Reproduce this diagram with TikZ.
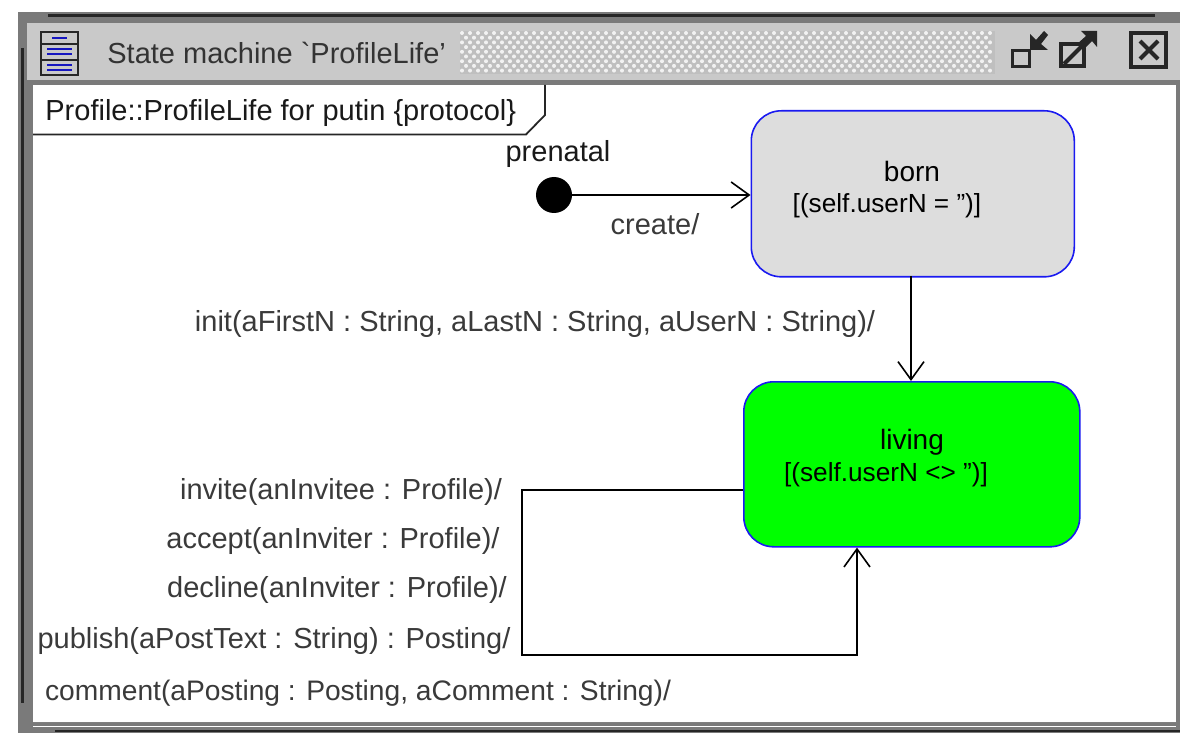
\documentclass[tikz,border=0pt]{standalone}
\usepackage{fontspec}
\setmainfont{Liberation Sans}
\usetikzlibrary{arrows.meta}
\definecolor{barGrey}{HTML}{C9C9C9}
\definecolor{frameGrey}{HTML}{7A7A7A}
\definecolor{stateGrey}{HTML}{DDDDDD}
\definecolor{labelGrey}{HTML}{3A3A3A}
\definecolor{edgeBlue}{HTML}{1A1AF0}
\tikzset{
  statebox/.style={draw=edgeBlue,line width=0.8pt,rounded corners=15pt,anchor=north west,inner sep=0pt},
  translabel/.style={font=\fontsize{14.5}{16}\selectfont,text=labelGrey,inner sep=0pt},
  guard/.style={font=\fontsize{13.1}{15}\selectfont,inner sep=0pt},
  statename/.style={font=\fontsize{14}{16}\selectfont,inner sep=0pt},
  trans/.style={line width=1pt,-{Straight Barb[length=9pt,width=13pt,line width=0.8pt]}},
  iconline/.style={line width=1.4pt,black!85},
}
\begin{document}
\begin{tikzpicture}
    \pgfsetxvec{\pgfpoint{0.5pt}{0}}
    \pgfsetyvec{\pgfpoint{0}{-0.5pt}}
    \useasboundingbox (0,0) rectangle (1180,733);

    % window frame
    \fill[white] (0,0) rectangle (1180,733);
    \fill[frameGrey] (18,12) rectangle (1180,733);
    \fill[barGrey] (27,23) rectangle (1180,80);
    \fill[white] (33,85) rectangle (1176,722);
    \draw[line width=1.5pt,black!85] (48,16) -- (1155,16);
    \draw[line width=1.5pt,black!85] (22,48) -- (22,703);
    \draw[line width=1pt,black!85] (55,731) -- (1180,731);
    \draw[line width=0.5pt,black!50] (33,722.5) -- (1176,722.5);
    \draw[line width=0.5pt,white] (33,726) -- (1176,726);

    % title bar
    \draw[iconline] (41,32) rectangle (78,75);
    \draw[iconline] (41,44) -- (78,44);
    \draw[iconline] (41,60) -- (78,60);
    \foreach \y/\l/\r in {38/52/67,49/47/72,54/47/72,65/47/72,70/47/72} {
      \draw[edgeBlue!80!black,line width=1pt] (\l,\y) -- (\r,\y);
    }
    \node[anchor=west,translabel,text=black!80] (titletext) at (107,53) {State machine \textasciigrave ProfileLife'};
    \fill[black!25] (460,31) rectangle (995,74);
    \foreach \y [count=\n] in {33,37.7,...,72} {
      \pgfmathsetmacro{\xstart}{isodd(\n) ? 462 : 466}
      \pgfmathsetmacro{\xnext}{\xstart+8}
      \foreach \x in {\xstart,\xnext,...,993} {
        \fill[white!95!black] (\x,\y) circle (1pt);
      }
    }

    % window icons
    \draw[line width=1.5pt,black!85] (1012,51) rectangle (1029,67);
    \fill[black!85] (1030,34) -- (1030,50) -- (1048,50) -- (1041,44) -- (1048,35) -- (1044,31) -- (1036,40) -- cycle;
    \draw[line width=2pt,black!85] (1061,44) rectangle (1084,66);
    \draw[line width=2pt,black!85] (1064,64) -- (1082,46);
    \fill[black!85] (1081,31) -- (1097,31) -- (1097,47) -- (1092,41) -- (1083,50) -- (1077,44) -- (1086,36) -- cycle;
    \draw[line width=2pt,black!85] (1131,33) rectangle (1166,67);
    \draw[line width=2pt,black!85] (1140,41) -- (1158,59);
    \draw[line width=2pt,black!85] (1158,41) -- (1140,59);

    % frame tab
    \draw[line width=0.9pt,black!85] (33,134.5) -- (526,134.5) -- (545,115) -- (545,85);
    \node[anchor=west,translabel,text=black!90] (framelabel) at (45,113) {Profile::ProfileLife for putin \{protocol\}};

    % states
    \node[statebox,fill=stateGrey,minimum width=161.5pt,minimum height=83pt] (born) at (750.5,110) {};
    \node[statename] (bornname) at (912,171) {born};
    \node[guard] (bornguard) at (887,206) {[(self.userN = '')]};
    \node[statebox,fill=green,minimum width=168pt,minimum height=82.5pt] (living) at (743,381) {};
    \node[statename] (livingname) at (912,442) {living};
    \node[guard] (livingguard) at (886,475) {[(self.userN <> '')]};

    \node[circle,fill=black,minimum size=18pt,inner sep=0pt] (prenatal) at (554,195) {};
    \node[translabel,text=black!90] (prenatalname) at (558,154) {prenatal};

    % transitions
    \draw[trans] (prenatal) -- (born.west |- prenatal);
    \coordinate (bornexit) at (911,276);
    \draw[trans] (bornexit) -- (bornexit |- living.north);
    \coordinate (loopa) at (522,490);
    \coordinate (loopb) at (522,655);
    \coordinate (loopc) at (857,655);
    \draw[trans] (living.west |- loopa) -- (loopa) -- (loopb) -- (loopc) -- (loopc |- living.south);

    \node[translabel] (create) at (655,224) {create/};
    \node[translabel] (init) at (535,324) {init(aFirstN : String, aLastN : String, aUserN : String)/};
    \node[translabel] (invite) at (341,492) {invite(anInvitee : Profile)/};
    \node[translabel] (accept) at (333,541) {accept(anInviter : Profile)/};
    \node[translabel] (decline) at (337,590) {decline(anInviter : Profile)/};
    \node[translabel] (publish) at (274,641) {publish(aPostText : String) : Posting/};
    \node[translabel,font=\fontsize{14.1}{16}\selectfont] (comment) at (358,693) {comment(aPosting : Posting, aComment : String)/};
\end{tikzpicture}
\end{document}
